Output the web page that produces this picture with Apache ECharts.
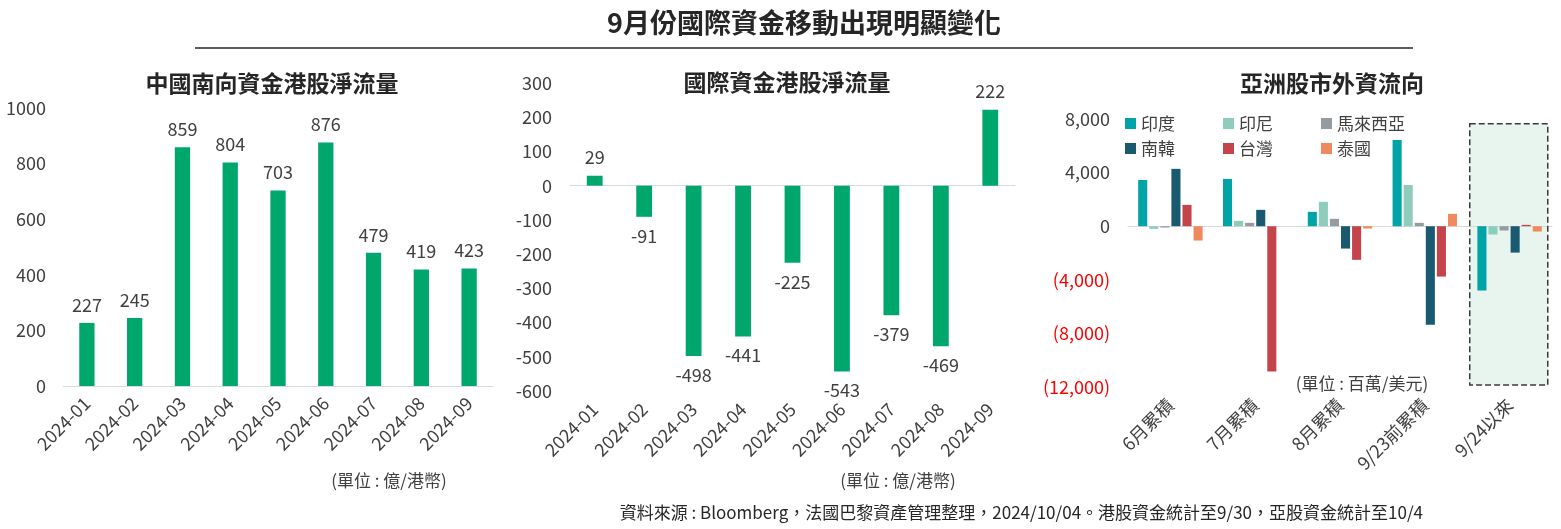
<!DOCTYPE html>
<html>
<head>
<meta charset="utf-8">
<script src="https://cdn.jsdelivr.net/npm/echarts@6/dist/echarts.min.js"></script>
<style>
  html, body { margin: 0; padding: 0; background: #fff; }
  #main { width: 1561px; height: 529px; }
</style>
</head>
<body>
<div id="main"></div>
<script>
// 資料
var months = ['2024-01', '2024-02', '2024-03', '2024-04', '2024-05', '2024-06', '2024-07', '2024-08', '2024-09'];
var southbound = [227, 245, 859, 804, 703, 876, 479, 419, 423];
var intlFlow = [29, -91, -498, -441, -225, -543, -379, -469, 222];

var asiaCats = ['6月累積', '7月累積', '8月累積', '9/23前累積', '9/24以來'];
var india = [3450, 3530, 1070, 6440, -4800];
var indonesia = [-200, 400, 1820, 3080, -620];
var malaysia = [-100, 250, 550, 250, -320];
var korea = [4280, 1220, -1670, -7360, -1970];
var taiwan = [1590, -10850, -2510, -3760, 100];
var thailand = [-1070, 0, -170, 920, -400];

var FONT = 'Noto Sans CJK TC';
var GREEN = '#00A76D';
var TXT = '#404040';

var myChart = echarts.init(document.getElementById('main'));

function withLabels(arr) {
    return arr.map(function (v) {
        return { value: v, label: { position: v < 0 ? 'bottom' : 'top' } };
    });
}

function asiaSeries(name, data, color) {
    return {
        name: name,
        type: 'bar',
        xAxisIndex: 3,
        yAxisIndex: 2,
        barGap: '22%',
        barCategoryGap: '24%',
        itemStyle: { color: color },
        data: data
    };
}

var option = {
    backgroundColor: '#fff',
    textStyle: { fontFamily: FONT },
    animation: false,
    grid: [
        { left: 63, top: 108, width: 430, height: 278 },
        { left: 570, top: 83, width: 445, height: 308 },
        { left: 1128, top: 119, width: 424, height: 268 }
    ],
    legend: [
        {
            data: ['印度', '印尼', '馬來西亞'],
            left: 1120, top: 110,
            itemWidth: 11, itemHeight: 11, itemGap: 48,
            icon: 'rect',
            textStyle: { fontFamily: FONT, fontSize: 17, color: TXT }
        },
        {
            data: ['南韓', '台灣', '泰國'],
            left: 1120, top: 135,
            itemWidth: 11, itemHeight: 11, itemGap: 48,
            icon: 'rect',
            textStyle: { fontFamily: FONT, fontSize: 17, color: TXT }
        }
    ],
    xAxis: [
        {
            gridIndex: 0, type: 'category', data: months,
            axisLine: { lineStyle: { color: '#d9d9d9' } },
            axisTick: { length: 5, lineStyle: { color: '#d9d9d9' } },
            axisLabel: { rotate: 45, margin: 14, fontSize: 18, color: TXT, interval: 0 }
        },
        {
            gridIndex: 1, type: 'category', data: months, position: 'bottom',
            axisLine: { show: false, onZero: false },
            axisTick: { show: false },
            axisLabel: { rotate: 45, margin: 15, fontSize: 18, color: TXT, interval: 0 }
        },
        {
            gridIndex: 1, type: 'category', data: months, position: 'bottom',
            axisLine: { onZero: true, lineStyle: { color: '#d9d9d9' } },
            axisTick: { length: 5, lineStyle: { color: '#d9d9d9' } },
            axisLabel: { show: false }
        },
        {
            gridIndex: 2, type: 'category', data: asiaCats, position: 'bottom',
            axisLine: { show: false, onZero: false },
            axisTick: { show: false },
            axisLabel: { rotate: 45, margin: 15, fontSize: 18, color: TXT, interval: 0 }
        },
        {
            gridIndex: 2, type: 'category', data: asiaCats, position: 'bottom',
            axisLine: { onZero: true, lineStyle: { color: '#d9d9d9' } },
            axisTick: { show: false },
            axisLabel: { show: false }
        },
        {
            // 數值軸，只用來定位 9/24以來 的虛線框
            gridIndex: 2, type: 'value', min: 0, max: 5, show: false
        }
    ],
    yAxis: [
        {
            gridIndex: 0, type: 'value', min: 0, max: 1000, interval: 200,
            axisLine: { show: false }, axisTick: { show: false },
            splitLine: { show: false },
            axisLabel: {
                fontSize: 18, color: TXT, margin: 17,
                formatter: function (v) { return String(v); }
            }
        },
        {
            gridIndex: 1, type: 'value', min: -600, max: 300, interval: 100,
            axisLine: { show: false }, axisTick: { show: false },
            splitLine: { show: false },
            axisLabel: { fontSize: 18, color: TXT, margin: 18 }
        },
        {
            gridIndex: 2, type: 'value', min: -12000, max: 8000, interval: 4000,
            axisLine: { show: false }, axisTick: { show: false },
            splitLine: { show: false },
            axisLabel: {
                fontSize: 18, margin: 18,
                formatter: function (v) {
                    var s = Math.abs(v).toLocaleString('en-US');
                    return v < 0 ? '(' + s + ')' : s;
                },
                color: function (v) {
                    return Number(v) < 0 ? '#ff0000' : TXT;
                }
            }
        }
    ],
    series: [
        {
            name: '南向資金',
            type: 'bar',
            xAxisIndex: 0, yAxisIndex: 0,
            barCategoryGap: '68%',
            itemStyle: { color: GREEN },
            label: { show: true, position: 'top', distance: 9, fontSize: 18, color: TXT },
            data: southbound
        },
        {
            name: '國際資金',
            type: 'bar',
            xAxisIndex: 1, yAxisIndex: 1,
            barCategoryGap: '68%',
            itemStyle: { color: GREEN },
            label: { show: true, distance: 10, fontSize: 18, color: TXT },
            data: withLabels(intlFlow)
        },
        {
            name: '區間',
            type: 'line',
            xAxisIndex: 5, yAxisIndex: 2,
            z: 1,
            data: [],
            markArea: {
                silent: true,
                itemStyle: {
                    color: 'rgba(190,225,207,0.35)',
                    borderColor: '#3a3a3a',
                    borderWidth: 1.5,
                    borderType: 'dashed'
                },
                data: [[{ xAxis: 4.03, yAxis: 7650 }, { xAxis: 4.95, yAxis: -11850 }]]
            }
        },
        asiaSeries('印度', india, '#00A3A6'),
        asiaSeries('印尼', indonesia, '#8ECDBB'),
        asiaSeries('馬來西亞', malaysia, '#949CA1'),
        asiaSeries('南韓', korea, '#1A5A70'),
        asiaSeries('台灣', taiwan, '#C4444C'),
        asiaSeries('泰國', thailand, '#EF8A5E')
    ],
    graphic: [
        {
            type: 'text', x: 804, y: 23,
            style: { text: '9月份國際資金移動出現明顯變化', font: 'bold 27px "Noto Sans CJK TC"', fill: '#262626', textAlign: 'center', textVerticalAlign: 'middle' }
        },
        {
            type: 'line',
            shape: { x1: 195, y1: 48, x2: 1413, y2: 48 },
            style: { stroke: '#262626', lineWidth: 1.5 }
        },
        {
            type: 'text', x: 272, y: 83,
            style: { text: '中國南向資金港股淨流量', font: 'bold 23px "Noto Sans CJK TC"', fill: '#262626', textAlign: 'center', textVerticalAlign: 'middle' }
        },
        {
            type: 'text', x: 787, y: 82,
            style: { text: '國際資金港股淨流量', font: 'bold 23px "Noto Sans CJK TC"', fill: '#262626', textAlign: 'center', textVerticalAlign: 'middle' }
        },
        {
            type: 'text', x: 1332, y: 83,
            style: { text: '亞洲股市外資流向', font: 'bold 23px "Noto Sans CJK TC"', fill: '#262626', textAlign: 'center', textVerticalAlign: 'middle' }
        },
        {
            type: 'text', x: 389, y: 481,
            style: { text: '(單位 : 億/港幣)', font: '17px "Noto Sans CJK TC"', fill: TXT, textAlign: 'center', textVerticalAlign: 'middle' }
        },
        {
            type: 'text', x: 898, y: 481,
            style: { text: '(單位 : 億/港幣)', font: '17px "Noto Sans CJK TC"', fill: TXT, textAlign: 'center', textVerticalAlign: 'middle' }
        },
        {
            type: 'text', x: 1362, y: 384,
            style: { text: '(單位 : 百萬/美元)', font: '17px "Noto Sans CJK TC"', fill: TXT, textAlign: 'center', textVerticalAlign: 'middle' }
        },
        {
            type: 'text', x: 1423, y: 513,
            style: { text: '資料來源 : Bloomberg，法國巴黎資產管理整理，2024/10/04。港股資金統計至9/30，亞股資金統計至10/4', font: '17px "Noto Sans CJK TC"', fill: '#262626', textAlign: 'right', textVerticalAlign: 'middle' }
        }
    ]
};

option && myChart.setOption(option);
</script>
</body>
</html>
